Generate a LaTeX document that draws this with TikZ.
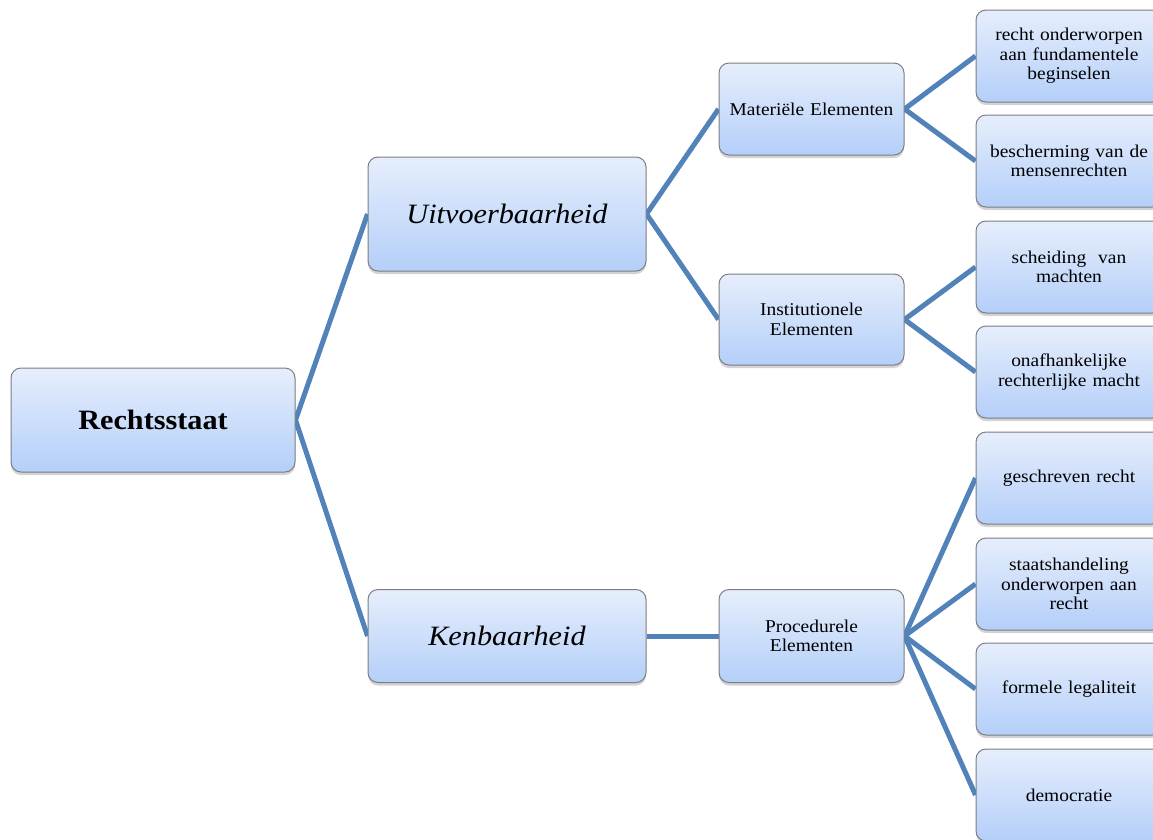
\documentclass[tikz,border=0pt]{standalone}
\usepackage{fontspec}
\setmainfont[FakeStretch=1.08]{Liberation Serif}
\usetikzlibrary{shadows}
\pgfdeclarelayer{background}
\pgfsetlayers{background,main}
\definecolor{boxtop}{RGB}{230,238,252}
\definecolor{boxbot}{RGB}{180,207,249}
\definecolor{boxline}{RGB}{125,125,130}
\definecolor{conn}{RGB}{82,130,186}
\tikzset{
  box/.style={draw=boxline, line width=1pt, rounded corners=10pt,
    top color=boxtop, bottom color=boxbot, align=center, inner sep=2pt,
    drop shadow={opacity=0.35, shadow xshift=0pt, shadow yshift=-3pt}},
  bigbox/.style={box, font=\fontsize{28}{31}\selectfont},
  midbox/.style={box, minimum width=185pt, text width=180pt,
    font=\fontsize{18}{19.5}\selectfont},
  leafbox/.style={box, minimum width=186pt, minimum height=92pt, text width=178pt,
    font=\fontsize{18}{19.5}\selectfont},
  link/.style={draw=conn, line width=5pt}
}
\begin{document}
\begin{tikzpicture}[x=1pt,y=-1pt]
\useasboundingbox (0,0) rectangle (1153,839);
\node[bigbox, minimum width=284pt, minimum height=104pt] (R) at (153,420) {\textbf{Rechtsstaat}};
\node[bigbox, minimum width=278pt, minimum height=114pt] (U) at (507,214) {\textit{Uitvoerbaarheid}};
\node[bigbox, minimum width=278pt, minimum height=93pt] (K) at (507,636) {\textit{Kenbaarheid}};
\node[midbox, minimum height=92pt] (M) at (811.5,109) {Materiële Elementen};
\node[midbox, minimum height=91pt] (I) at (811.5,319.5) {Institutionele\\Elementen};
\node[midbox, minimum height=93pt] (P) at (811.5,636) {Procedurele\\Elementen};
\node[leafbox] (L1) at (1069,56) {recht onderworpen\\aan fundamentele\\beginselen};
\node[leafbox] (L2) at (1069,161) {bescherming van de\\mensenrechten};
\node[leafbox] (L3) at (1069,267) {scheiding\ \ van\\machten};
\node[leafbox] (L4) at (1069,372) {onafhankelijke\\rechterlijke macht};
\node[leafbox] (L5) at (1069,478) {geschreven recht};
\node[leafbox] (L6) at (1069,584) {staatshandeling\\onderworpen aan\\recht};
\node[leafbox] (L7) at (1069,689) {formele legaliteit};
\node[leafbox] (L8) at (1069,795) {democratie};
\begin{pgfonlayer}{background}
\draw[link] (R.east) -- (U.west);
\draw[link] (R.east) -- (K.west);
\draw[link] (U.east) -- (M.west);
\draw[link] (U.east) -- (I.west);
\draw[link] (K.east) -- (P.west);
\draw[link] (M.east) -- (L1.west);
\draw[link] (M.east) -- (L2.west);
\draw[link] (I.east) -- (L3.west);
\draw[link] (I.east) -- (L4.west);
\draw[link] (P.east) -- (L5.west);
\draw[link] (P.east) -- (L6.west);
\draw[link] (P.east) -- (L7.west);
\draw[link] (P.east) -- (L8.west);
\end{pgfonlayer}
\end{tikzpicture}
\end{document}
